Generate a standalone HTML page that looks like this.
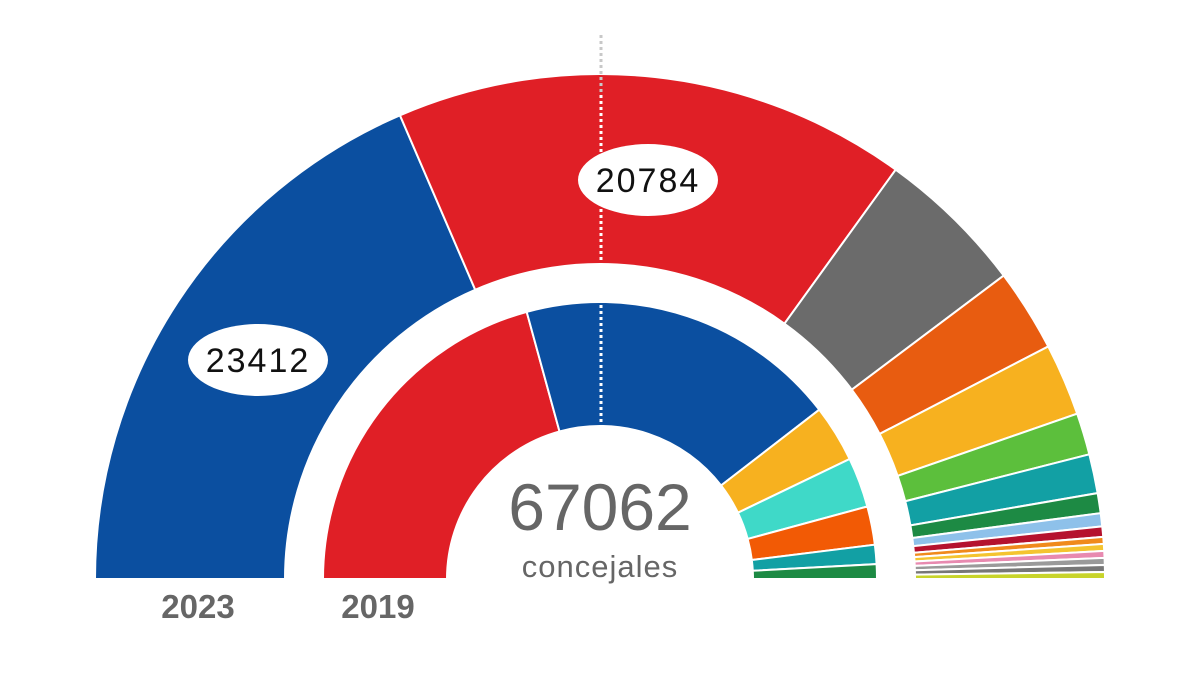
<!DOCTYPE html>
<html><head><meta charset="utf-8"><style>
html,body{margin:0;padding:0;background:#fff;}
svg{display:block;font-family:"Liberation Sans",sans-serif;}
</style></head><body>
<svg id="c" width="1200" height="675" viewBox="0 0 1200 675"></svg>
<script>
const outerParties=["PP","PSOE","Otros","Vox","CC/Otros","Verdes","Teal","DarkGreen","LightBlue","Crimson","Orange","Yellow","Pink","Gray1","Gray2","Lime"];
const outerValues=[23412,20784,6050,3340,2920,1690,1580,810,530,420,280,280,280,280,280,280];
const outerColors=["#0b4fa0","#e01f26","#6b6b6b","#e85c10","#f7b11f","#5cbf3c","#12a0a4","#1d8a44","#8ec1ea","#b5122e","#f08a1c","#f4c430","#e88ab0","#9a9a9a","#777","#c8d42a"];
const innerParties=["PSOE","PP","Cs","Podemos","Otros","Teal","Green"];
const innerValues=[27800,25200,4470,3910,3000,1500,1150];
const innerColors=["#e01f26","#0b4fa0","#f7b11f","#3fd9c8","#f25a05","#12a0a4","#1d8a44"];
const NS="http://www.w3.org/2000/svg";
const svg=document.getElementById('c');
const cx=600,cy=579;
function mk(t,a){const e=document.createElementNS(NS,t);for(const k in a)e.setAttribute(k,a[k]);svg.appendChild(e);return e;}
function pt(r,a){return [cx+r*Math.cos(a),cy-r*Math.sin(a)];}
function ring(vals,cols,r0,r1,name){
  const tot=vals.reduce((a,b)=>a+b,0);let ang=Math.PI;
  vals.forEach((v,i)=>{
    const a2=ang-v/tot*Math.PI;
    const p1=pt(r1,ang),p2=pt(r1,a2),p3=pt(r0,a2),p4=pt(r0,ang);
    const d=`M${p1}A${r1},${r1} 0 0 1 ${p2}L${p3}A${r0},${r0} 0 0 0 ${p4}Z`;
    const e=mk('path',{d:d,fill:cols[i],stroke:'#fff','stroke-width':2});
    
    
    ang=a2;
  });
}
ring(outerValues,outerColors,315,505,'outer-2023');
ring(innerValues,innerColors,153,277,'inner-2019');
let l=mk('line',{x1:601,y1:35,x2:601,y2:95,stroke:'#c8c8c8','stroke-width':3,'stroke-dasharray':'3,3'});

l=mk('line',{x1:601,y1:95,x2:601,y2:425,stroke:'#fff','stroke-width':3,'stroke-dasharray':'3,3'});

function label(x,y,t,n){
  const e=mk('ellipse',{cx:x,cy:y,rx:70,ry:36,fill:'#fff'});
  const tx=mk('text',{x:x,y:y+12,'text-anchor':'middle','font-size':34,fill:'#111','letter-spacing':'2'});tx.textContent=t;
  
}
label(258,360,outerValues[0],'pp-2023-value');
label(648,180,outerValues[1],'psoe-2023-value');
let t=mk('text',{x:600,y:530,'text-anchor':'middle','font-size':66,fill:'#666'});t.textContent='67062';

t=mk('text',{x:600,y:577,'text-anchor':'middle','font-size':31,fill:'#666','letter-spacing':'1'});t.textContent='concejales';

t=mk('text',{x:198,y:618,'text-anchor':'middle','font-size':33,'font-weight':'bold',fill:'#666'});t.textContent='2023';

t=mk('text',{x:378,y:618,'text-anchor':'middle','font-size':33,'font-weight':'bold',fill:'#666'});t.textContent='2019';

</script>
</body></html>
